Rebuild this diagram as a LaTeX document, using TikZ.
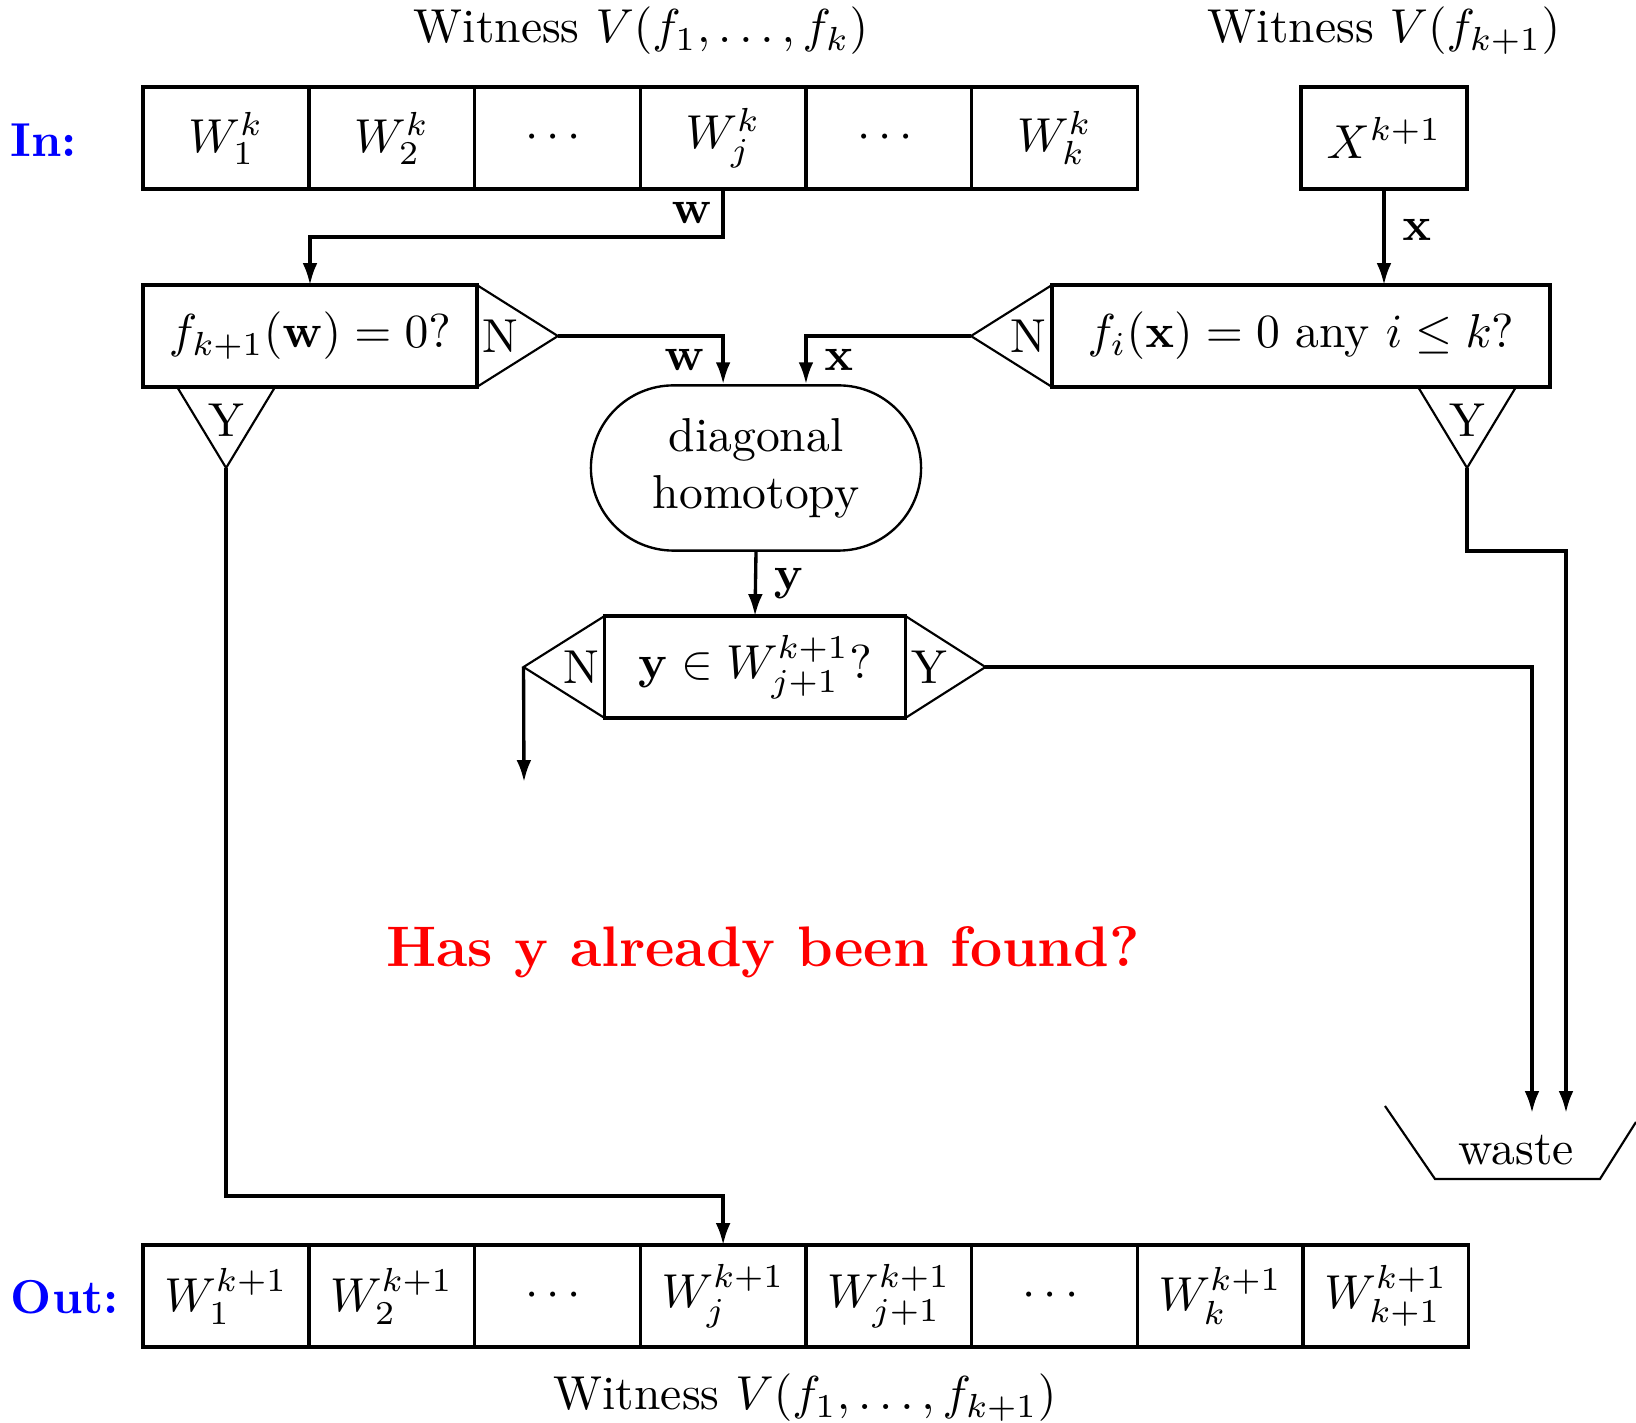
\documentclass[tikz,border=0pt]{standalone}
\usepackage{amsmath}
\usepackage{amssymb}
\usepackage{xcolor}
\usetikzlibrary{positioning,arrows.meta,shapes.misc,calc}

\begin{document}
\begin{tikzpicture}[
  x=0.21pt, y=-0.21pt,
  cell/.style={draw, line width=0.7pt, minimum width=34.8pt, minimum height=21.4pt,
               inner sep=0pt, outer sep=0pt},
  tri/.style={line width=0.45pt, line join=miter},
  trilabel/.style={inner sep=1pt},
  arrow/.style={-{Latex[length=4.6pt,width=3.1pt]}, line width=0.7pt},
  lbl/.style={inner sep=3.5pt}
]
  \useasboundingbox (0,0) rectangle (1636,1423);

  % Eingabe
  \node[blue, font=\bfseries] (inlbl) at (44,140) {In:};
  \node[cell] (I1) at (226,138) {$W_1^k$};
  \node[cell, right=0pt of I1] (I2) {$W_2^k$};
  \node[cell, right=0pt of I2] (I3) {$\cdots$};
  \node[cell, right=0pt of I3] (I4) {$W_j^k$};
  \node[cell, right=0pt of I4] (I5) {$\cdots$};
  \node[cell, right=0pt of I5] (I6) {$W_k^k$};
  \node (wit1) at (641,31) {Witness $V(f_1,\ldots,f_k)$};

  \node[cell] (X) at (1384,138) {$X^{k+1}$};
  \node (wit2) at (1384,31) {Witness $V(f_{k+1})$};

  % Tests
  \node[cell, minimum width=70.1pt] (fw) at (310,336) {$f_{k+1}(\mathbf{w})=0?$};
  \node[cell, minimum width=104.6pt] (fi) at (1301,336) {$f_i(\mathbf{x})=0$ any $i\le k$?};
  \node[draw, rounded rectangle, line width=0.5pt, minimum width=76pt,
        minimum height=34.7pt, align=center] (hom) at (756,468) {diagonal\\homotopy};
  \node[cell, minimum width=63.2pt] (yb) at (755,667) {$\mathbf{y}\in W_{j+1}^{k+1}?$};

  % Ja/Nein-Spitzen
  \draw[tri] (fw.north east) -- ++(81,51) coordinate (fwN) -- (fw.south east);
  \draw[tri] ($(fw.south west)+(34,0)$) -- ++(49,81) coordinate (fwY) -- ++(49,-81);
  \draw[tri] (fi.north west) -- ++(-81,51) coordinate (fiN) -- (fi.south west);
  \draw[tri] ($(fi.south east)+(-132,0)$) -- ++(49,81) coordinate (fiY) -- ++(49,-81);
  \draw[tri] (yb.north west) -- ++(-81,51) coordinate (ybN) -- (yb.south west);
  \draw[tri] (yb.north east) -- ++(80,51) coordinate (ybY) -- (yb.south east);
  \node[trilabel, right=0pt of fw.east] (fwNl) {N};
  \node (fwYl) at ($(fwY)+(0,-48)$) {Y};
  \node[trilabel, left=0pt of fi.west] (fiNl) {N};
  \node (fiYl) at ($(fiY)+(0,-48)$) {Y};
  \node[trilabel, left=0pt of yb.west] (ybNl) {N};
  \node[trilabel, right=0pt of yb.east] (ybYl) {Y};

  \node[red, font=\large\bfseries] (quest) at (763,952) {Has y already been found?};

  % Abfall
  \node (waste) at (1516,1150) {waste};
  \draw[tri] (1385,1106) -- (1435,1179) -- (1600,1179) -- (1636,1122);
  \coordinate (in1) at (1532,1113);
  \coordinate (in2) at (1566,1113);
  \coordinate (nend) at (524,782);

  % Ausgabe
  \node[blue, font=\bfseries] (outlbl) at (65,1297) {Out:};
  \node[cell] (O1) at (226,1296) {$W_1^{k+1}$};
  \node[cell, right=0pt of O1] (O2) {$W_2^{k+1}$};
  \node[cell, right=0pt of O2] (O3) {$\cdots$};
  \node[cell, right=0pt of O3] (O4) {$W_j^{k+1}$};
  \node[cell, right=0pt of O4] (O5) {$W_{j+1}^{k+1}$};
  \node[cell, right=0pt of O5] (O6) {$\cdots$};
  \node[cell, right=0pt of O6] (O7) {$W_k^{k+1}$};
  \node[cell, right=0pt of O7] (O8) {$W_{k+1}^{k+1}$};
  \node (wit3) at (805,1398) {Witness $V(f_1,\ldots,f_{k+1})$};

  % Verbindungen
  \draw[arrow] (I4.south) -- ++(0,48) node[midway, left, inner sep=2pt] {$\mathbf{w}$} -| (fw.north);
  \draw[arrow] (X.south) -- (X.south |- fi.north) node[pos=0.43, right, lbl] {$\mathbf{x}$};
  \draw[arrow] (fwN) -| (hom.north -| I4.south) node[pos=0.75, left, lbl] {$\mathbf{w}$};
  \draw[arrow] (fiN) -| (hom.north -| I4.south east) node[pos=0.75, right, lbl] {$\mathbf{x}$};
  \draw[arrow] (hom.south) -- (yb.north) node[midway, right, lbl] {$\mathbf{y}$};
  \draw[arrow] (ybN) -- (nend);
  \draw[arrow] (ybY) -| (in1);
  \draw[arrow] (fiY) -- ++(0,83) -| (in2);
  \draw[arrow] (fwY) |- ($(O4.north)+(0,-49)$) -- (O4.north);
\end{tikzpicture}
\end{document}
